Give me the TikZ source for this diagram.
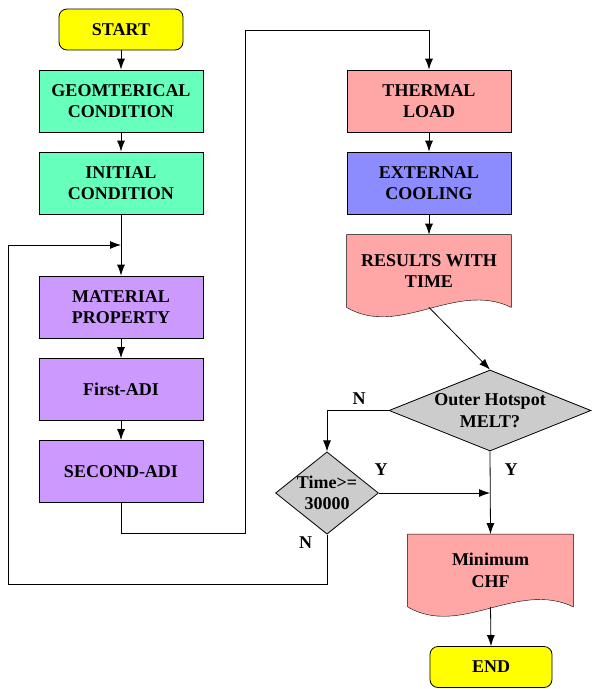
\documentclass[tikz,border=0pt]{standalone}
\usepackage{fontspec}
\setmainfont{Liberation Serif}
\usetikzlibrary{arrows.meta,shapes.geometric,backgrounds}

\definecolor{startyellow}{HTML}{FFFF00}
\definecolor{geomgreen}{HTML}{66FFBB}
\definecolor{matpurple}{HTML}{CC99FF}
\definecolor{loadpink}{HTML}{FFA6A6}
\definecolor{coolblue}{HTML}{8C8CFF}
\definecolor{decgray}{HTML}{CCCCCC}

\newcommand{\flowfont}{\fontsize{18}{21.5}\selectfont\bfseries}
% paper-like box with a wavy bottom edge
\newcommand{\docshape}[2]{%
  \filldraw[fill=#2] (#1.south west) -- (#1.north west) -- (#1.north east) -- (#1.south east)
    .. controls ([shift={(-56,-27)}]#1.south east) and ([shift={(53,31)}]#1.south west) .. (#1.south west) -- cycle;}

\tikzset{
  box/.style={draw, rectangle, minimum width=164pt, minimum height=62pt, align=center, font=\flowfont},
  term/.style={draw, rectangle, rounded corners=8pt, fill=startyellow, minimum height=41pt, font=\flowfont},
  docbox/.style={rectangle, minimum width=164pt, minimum height=72pt, align=center, font=\flowfont},
  decision/.style={draw, diamond, fill=decgray, inner sep=0pt, align=center, font=\flowfont},
  lbl/.style={font=\flowfont}
}

\begin{document}
\begin{tikzpicture}[x=1pt,y=-1pt,line width=0.8pt,>={Latex[length=11pt,width=8pt]}]
    \useasboundingbox (0,0) rectangle (592,689);

    % left column
    \node[term, minimum width=124pt] (start) at (121,29.5) {START};
    \node[box,fill=geomgreen] (geom) at (121,101) {GEOMTERICAL\\CONDITION};
    \node[box,fill=geomgreen] (init) at (121,183) {INITIAL\\CONDITION};
    \node[box,fill=matpurple] (mat) at (121,307) {MATERIAL\\PROPERTY};
    \node[box,fill=matpurple] (adi1) at (121,389.5) {First-ADI};
    \node[box,fill=matpurple] (adi2) at (121,471.5) {SECOND-ADI};

    % right column
    \node[box,fill=loadpink] (therm) at (429,101) {THERMAL\\LOAD};
    \node[box,fill=coolblue] (cool) at (429,183) {EXTERNAL\\COOLING};
    \node[docbox] (res) at (429,271) {RESULTS WITH\\TIME};
    \node[decision, aspect=2.49, minimum width=202pt, minimum height=81pt] (melt) at (490,410.5) {Outer Hotspot\\MELT?};
    \node[decision, aspect=1.25, minimum width=101pt, minimum height=81pt] (time) at (327,493) {Time>=\\30000};
    \node[docbox, minimum width=165pt] (chf) at (490.5,570.5) {Minimum\\CHF};
    \node[term, minimum width=122pt] (end) at (491,667) {END};

    \begin{scope}[on background layer]
        \docshape{res}{loadpink}
        \docshape{chf}{loadpink}
    \end{scope}

    % labels
    \node[lbl] (nmelt) at (359,399) {N};
    \node[lbl] (ytime) at (381,470) {Y};
    \node[lbl] (ymelt) at (511,470) {Y};
    \node[lbl] (ntime) at (305.5,543) {N};

    % helper points
    \coordinate (join) at (121,245);
    \coordinate (loopbl) at (8,584);
    \coordinate (looptl) at (8,245);
    \coordinate (risebot) at (245,533);
    \coordinate (risetop) at (245,30);
    \coordinate (merge) at (melt.south |- time.east);

    % connectors
    \draw[->] (start) -- (geom);
    \draw[->] (geom) -- (init);
    \draw[->] (init) -- (mat);
    \draw[->] (mat) -- (adi1);
    \draw[->] (adi1) -- (adi2);
    \draw[->] (adi2.south) |- (risebot) -- (risetop) -| (therm.north);
    \draw[->] (therm) -- (cool);
    \draw[->] (cool.south) -- (res.north);
    \draw[->] (res.south) -- (melt.north);
    \draw[->] (melt.west) -| (time.north);
    \draw[->] (time.east) -- (merge);
    \draw[->] (melt.south) -- (chf.north);
    \draw[->] (chf.south) -- (end.north);
    \draw[->] (time.south) |- (loopbl) -- (looptl) -- (join);
\end{tikzpicture}
\end{document}
